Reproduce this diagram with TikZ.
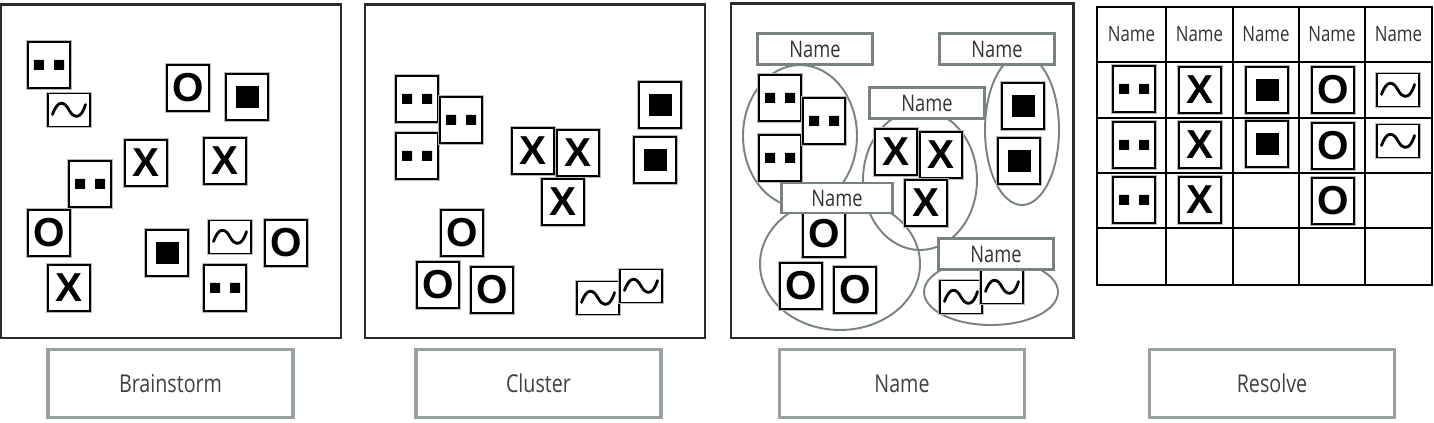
\documentclass[tikz,border=0pt]{standalone}
\usepackage{fontspec}
\usepackage{tikz}
\newfontfamily\condfont{Open Sans}[FakeStretch=0.8]
\newfontfamily\tilefont{Liberation Sans}
\definecolor{framegray}{HTML}{2A2A2A}
\definecolor{ringgray}{HTML}{78837E}
\definecolor{boxgray}{HTML}{97A39E}
\tikzset{
  frame/.style={draw=framegray, line width=1.7pt},
  tile/.style={draw=black, fill=white, line width=0.8pt, preaction={draw=gray!55, line width=2pt},
    minimum width=0.84cm, minimum height=0.92cm, inner sep=0pt,
    font=\tilefont\bfseries\fontsize{23}{23}\selectfont},
  dtile/.style={tile, path picture={\fill[black, shift={(path picture bounding box.center)}]
    (-0.30,-0.1) rectangle (-0.10,0.1) (0.10,-0.1) rectangle (0.30,0.1);}},
  stile/.style={tile, path picture={\fill[black, shift={(path picture bounding box.center)}]
    (-0.23,-0.22) rectangle (0.23,0.22);}},
  ttile/.style={tile, minimum height=0.66cm, path picture={\draw[black, line width=1.6pt, line cap=round, shift={(path picture bounding box.center)}]
    (-0.33,-0.09) .. controls (-0.22,0.22) and (-0.09,0.17) .. (0,0) .. controls (0.09,-0.17) and (0.24,-0.2) .. (0.33,0.11);}},
  ring/.style={draw=ringgray, line width=1.1pt},
  namebox/.style={draw=ringgray, fill=white, line width=1.3pt, minimum width=2.3cm, minimum height=0.62cm,
    inner sep=0pt, text=black!80, font=\condfont\fontsize{13}{13}\selectfont},
  stepbox/.style={draw=boxgray, line width=1.8pt, minimum width=4.9cm, minimum height=1.36cm,
    text=black!75, font=\condfont\fontsize{14}{14}\selectfont},
  head/.style={text=black!80, font=\condfont\fontsize{12}{12}\selectfont}
}

\begin{document}
\begin{tikzpicture}
  \useasboundingbox (0,0) rectangle (28.68,8.46);
  % frames
  \draw[frame] (0.02,1.70) rectangle (6.82,8.36);
  \draw[frame] (7.30,1.70) rectangle (14.10,8.36);
  \draw[frame] (14.62,1.70) rectangle (21.46,8.38);

  % Brainstorm
  \node[dtile] (b1) at (0.98,7.16) {};
  \node[ttile] (b2) at (1.38,6.26) {};
  \node[tile]  (b3) at (3.76,6.70) {O};
  \node[stile] (b4) at (4.94,6.52) {};
  \node[tile]  (b5) at (2.92,5.20) {X};
  \node[tile]  (b6) at (4.50,5.24) {X};
  \node[dtile] (b7) at (1.80,4.78) {};
  \node[tile]  (b8) at (0.98,3.80) {O};
  \node[tile]  (b9) at (1.38,2.70) {X};
  \node[stile] (b10) at (3.34,3.40) {};
  \node[ttile] (b11) at (4.60,3.72) {};
  \node[tile]  (b12) at (5.72,3.60) {O};
  \node[dtile] (b13) at (4.50,2.70) {};

  % Cluster
  \node[dtile] (c1) at (8.34,6.48) {};
  \node[dtile] (c3) at (8.34,5.34) {};
  \node[dtile] (c2) at (9.22,6.06) {};
  \node[tile]  (c4) at (10.66,5.44) {X};
  \node[tile]  (c5) at (11.56,5.40) {X};
  \node[tile]  (c6) at (11.26,4.42) {X};
  \node[stile] (c7) at (13.20,6.36) {};
  \node[stile] (c8) at (13.10,5.26) {};
  \node[tile]  (c9) at (9.24,3.80) {O};
  \node[tile]  (c10) at (8.76,2.76) {O};
  \node[tile]  (c11) at (9.84,2.66) {O};
  \node[ttile] (c12) at (11.96,2.50) {};
  \node[ttile] (c13) at (12.82,2.74) {};

  % Name: groups
  \draw[ring] (16.00,5.74) ellipse (1.14 and 1.42);
  \draw[ring] (18.40,4.86) ellipse (1.14 and 1.40);
  \draw[ring] (20.44,5.86) ellipse (0.74 and 1.50);
  \draw[ring] (16.80,3.18) ellipse (1.60 and 1.32);
  \draw[ring] (19.82,2.62) ellipse (1.34 and 0.66);
  \node[dtile] (n1) at (15.60,6.50) {};
  \node[dtile] (n3) at (15.60,5.30) {};
  \node[dtile] (n2) at (16.48,6.04) {};
  \node[tile]  (n4) at (17.92,5.42) {X};
  \node[tile]  (n5) at (18.82,5.36) {X};
  \node[tile]  (n6) at (18.52,4.40) {X};
  \node[stile] (n7) at (20.46,6.34) {};
  \node[stile] (n8) at (20.38,5.24) {};
  \node[tile]  (n9) at (16.48,3.78) {O};
  \node[tile]  (n10) at (16.02,2.74) {O};
  \node[tile]  (n11) at (17.10,2.66) {O};
  \node[ttile] (n12) at (19.22,2.52) {};
  \node[ttile] (n13) at (20.04,2.72) {};
  \node[namebox] (nameA) at (16.30,7.48) {Name};
  \node[namebox] (nameB) at (19.94,7.48) {Name};
  \node[namebox] (nameC) at (18.54,6.40) {Name};
  \node[namebox, minimum width=2.22cm, minimum height=0.6cm] (nameD) at (16.74,4.50) {Name};
  \node[namebox] (nameE) at (19.92,3.38) {Name};

  % Resolve grid
  \draw[black, line width=1.2pt] (21.94,8.32) rectangle (28.64,2.76);
  \draw[black, line width=1.2pt] (23.32,8.32) -- (23.32,2.76);
  \draw[black, line width=1.2pt] (24.66,8.32) -- (24.66,2.76);
  \draw[black, line width=1.2pt] (25.98,8.32) -- (25.98,2.76);
  \draw[black, line width=1.2pt] (27.30,8.32) -- (27.30,2.76);
  \draw[black, line width=1.2pt] (21.94,7.22) -- (28.64,7.22);
  \draw[black, line width=1.2pt] (21.94,6.10) -- (28.64,6.10);
  \draw[black, line width=1.2pt] (21.94,5.00) -- (28.64,5.00);
  \draw[black, line width=1.2pt] (21.94,3.90) -- (28.64,3.90);
  \node[head] (h1) at (22.63,7.77) {Name};
  \node[head] (h2) at (23.99,7.77) {Name};
  \node[head] (h3) at (25.32,7.77) {Name};
  \node[head] (h4) at (26.64,7.77) {Name};
  \node[head] (h5) at (27.97,7.77) {Name};
  \node[dtile] (r1) at (22.68,6.68) {};
  \node[tile]  (r2) at (24.00,6.66) {X};
  \node[stile] (r3) at (25.34,6.66) {};
  \node[tile]  (r4) at (26.66,6.66) {O};
  \node[ttile] (r5) at (27.96,6.66) {};
  \node[dtile] (r6) at (22.68,5.56) {};
  \node[tile]  (r7) at (24.00,5.56) {X};
  \node[stile] (r8) at (25.34,5.58) {};
  \node[tile]  (r9) at (26.66,5.54) {O};
  \node[ttile] (r10) at (27.96,5.64) {};
  \node[dtile] (r11) at (22.68,4.46) {};
  \node[tile]  (r12) at (24.00,4.46) {X};
  \node[tile]  (r13) at (26.66,4.44) {O};

  % step labels
  \node[stepbox] (brainstorm) at (3.41,0.79) {Brainstorm};
  \node[stepbox] (cluster) at (10.77,0.79) {Cluster};
  \node[stepbox] (name) at (18.04,0.79) {Name};
  \node[stepbox] (resolve) at (25.44,0.79) {Resolve};
\end{tikzpicture}
\end{document}
